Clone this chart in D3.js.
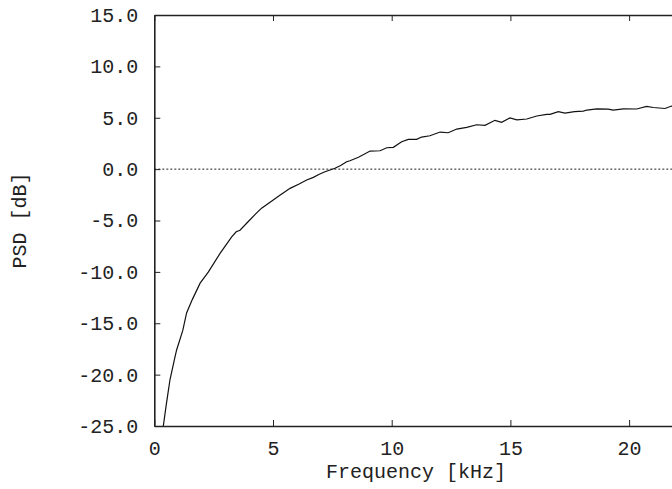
<!DOCTYPE html>
<html>
<head>
<meta charset="utf-8">
<script src="https://cdn.jsdelivr.net/npm/d3@7"></script>
<style>
  body { margin: 0; background: #fff; }
  text { font-family: "Liberation Mono", "Courier New", monospace; fill: #222; }
</style>
</head>
<body>
<div id="chart"></div>
<script>
var width = 672,
    height = 489;

// frequency in kHz, PSD in dB
var freq = [0.38, 0.5, 0.66, 0.87, 0.94, 1.2, 1.36, 1.6, 1.93, 2.28, 2.77, 3.26, 3.45, 3.61,
    3.96, 4.25, 4.52, 5.01, 5.35, 5.72, 6.1, 6.42, 6.7, 6.95, 7.19, 7.61, 7.85, 8.1, 8.24,
    8.6, 9.09, 9.51, 9.79, 10.07, 10.42, 10.7, 11.05, 11.26, 11.61, 12.04, 12.38, 12.74,
    13.16, 13.58, 13.93, 14.35, 14.63, 14.98, 15.27, 15.69, 16.11, 16.53, 16.67, 17.02,
    17.3, 17.7, 18.07, 18.22, 18.64, 19.12, 19.33, 19.76, 20.32, 20.74, 21.02, 21.51, 21.79, 22.05];
var psd = [-25.0, -23.0, -20.5, -18.3, -17.6, -15.7, -14.0, -12.7, -11.1, -10.0, -8.2, -6.6, -6.1, -5.95,
    -5.1, -4.4, -3.8, -3.0, -2.45, -1.87, -1.45, -1.06, -0.8, -0.5, -0.25, 0.08, 0.35, 0.72, 0.82,
    1.15, 1.76, 1.79, 2.08, 2.12, 2.67, 2.9, 2.9, 3.12, 3.25, 3.61, 3.54, 3.9,
    4.07, 4.32, 4.26, 4.75, 4.55, 4.98, 4.8, 4.88, 5.17, 5.33, 5.33, 5.59,
    5.46, 5.6, 5.65, 5.75, 5.87, 5.84, 5.74, 5.87, 5.85, 6.1, 6.0, 5.9, 6.14, 6.05];

var xTicks = [0, 5, 10, 15, 20];
var yTicks = [-25, -20, -15, -10, -5, 0, 5, 10, 15];

var margin = {left: 154.3, top: 15, bottom: 426};

var x = d3.scaleLinear().domain([0, 22.05]).range([margin.left, margin.left + 22.05 * 23.74]);
var y = d3.scaleLinear().domain([-25, 15]).range([margin.bottom, margin.top]);

var svg = d3.select('#chart').append('svg')
    .attr('width', width)
    .attr('height', height);

var fmt = function (d) { return d.toFixed(1); };

// zero reference
svg.append('line')
    .attr('x1', x(0)).attr('x2', x(22.05))
    .attr('y1', y(0)).attr('y2', y(0))
    .attr('stroke', '#222')
    .attr('stroke-width', 1)
    .attr('stroke-dasharray', '2,2');

svg.append('path')
    .datum(d3.zip(freq, psd))
    .attr('fill', 'none')
    .attr('stroke', '#111')
    .attr('stroke-width', 1.2)
    .attr('d', d3.line().x(d => x(d[0])).y(d => y(d[1])));

var xAxisBottom = svg.append('g')
    .attr('transform', 'translate(0,' + margin.bottom + ')')
    .call(d3.axisBottom(x).tickValues(xTicks).tickSizeInner(-6).tickSizeOuter(0).tickPadding(15));

var xAxisTop = svg.append('g')
    .attr('transform', 'translate(0,' + margin.top + ')')
    .call(d3.axisTop(x).tickValues(xTicks).tickSizeInner(-6).tickSizeOuter(0).tickFormat(''));

var yAxis = svg.append('g')
    .attr('transform', 'translate(' + margin.left + ',0)')
    .call(d3.axisLeft(y).tickValues(yTicks).tickFormat(fmt).tickSizeInner(-6).tickSizeOuter(0).tickPadding(16));

[xAxisBottom, xAxisTop, yAxis].forEach(function (g) {
    g.attr('font-size', null).attr('font-family', null);
    g.selectAll('.domain').attr('stroke', '#222').attr('stroke-width', 1.6);
    g.selectAll('.tick line').attr('stroke', '#222').attr('stroke-width', 1);
    g.selectAll('text').style('font-size', '20px').attr('fill', '#222');
});

svg.append('text')
    .attr('x', (x(0) + x(22.05)) / 2)
    .attr('y', 478)
    .attr('text-anchor', 'middle')
    .style('font-size', '20px')
    .text('Frequency [kHz]');

svg.append('text')
    .attr('transform', 'translate(26,' + (margin.top + margin.bottom) / 2 + ') rotate(-90)')
    .attr('text-anchor', 'middle')
    .style('font-size', '20px')
    .text('PSD [dB]');
</script>
</body>
</html>
